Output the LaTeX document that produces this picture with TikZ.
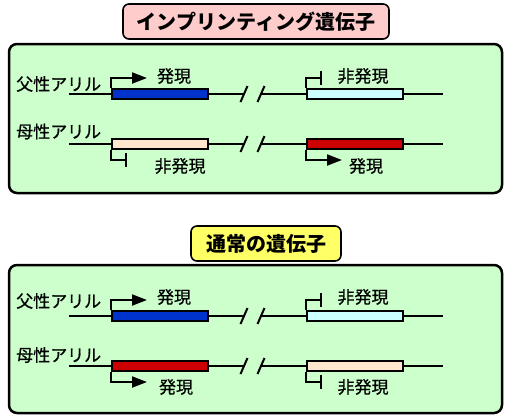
\documentclass[tikz,border=0pt]{standalone}
\usepackage{fontspec}
\newfontfamily\jp{Noto Sans CJK JP}
\newfontfamily\jpmed{Noto Sans CJK JP}[FakeBold=0.7]
\usetikzlibrary{arrows.meta}

\definecolor{panelgreen}{HTML}{CCFFCC}
\definecolor{titlepink}{HTML}{FFCCCC}
\definecolor{titleyellow}{HTML}{FFFF66}
\definecolor{geneblue}{HTML}{0033CC}
\definecolor{genered}{HTML}{CC0000}
\definecolor{genepale}{HTML}{CCFFFF}
\definecolor{genepeach}{HTML}{FFE5CC}

\tikzset{
	panel/.style={draw, line width=2.5pt, rounded corners=8pt, fill=panelgreen},
	titlebox/.style={draw, line width=1.6pt, rounded corners=6pt, minimum height=35pt, inner sep=0pt, font=\jp\bfseries\fontsize{20}{22}\selectfont},
	gene/.style={draw, line width=2pt, minimum width=96pt, minimum height=10pt, inner sep=0pt, anchor=west},
	dna/.style={line width=2pt},
	expr/.style={line width=2pt, -{Triangle[length=15pt,width=11pt]}},
	silent/.style={line width=2pt, -{Bar[width=14pt]}},
	lbl/.style={font=\jpmed\fontsize{17}{20}\selectfont, inner sep=0pt}
}

\begin{document}
\begin{tikzpicture}[x=1pt,y=-1pt]
		\useasboundingbox (0,0) rectangle (514,418);
		% imprinting gene
		\node[titlebox, fill=titlepink, minimum width=266pt] (title1) at (256,21.5) {インプリンティング遺伝子};
		\draw[panel] (9,44) rectangle (502,193);
		\node[lbl, anchor=west] (pat1) at (16,84) {父性アリル};
		\node[lbl, anchor=west] (mat1) at (16,131.5) {母性アリル};
		\coordinate (p1s) at (69,94);
		\coordinate (p1e) at (443,94);
		\coordinate (p1x) at (244,94);
		\coordinate (p1y) at (261,94);
		\node[gene, fill=geneblue] (p1a) at (111,94) {};
		\node[gene, fill=genepale] (p1b) at (306,94) {};
		\draw[dna] (p1s) -- (p1a.west);
		\draw[dna] (p1a.east) -- (p1x);
		\draw[dna] (p1y) -- (p1b.west);
		\draw[dna] (p1b.east) -- (p1e);
		\draw[dna,shift={(p1x)}] (-3.5,8) -- (3.5,-8);
		\draw[dna,shift={(p1y)}] (-3.5,8) -- (3.5,-8);
		\draw[expr] (p1a.north west) |- ++(36,-10);
		\draw[silent] (p1b.north west) |- ++(16,-10);
		\node[lbl] (on1a) at (174,76) {発現};
		\node[lbl] (off1b) at (363,76) {非発現};
		\coordinate (m1s) at (69,144);
		\coordinate (m1e) at (443,144);
		\coordinate (m1x) at (244,144);
		\coordinate (m1y) at (261,144);
		\node[gene, fill=genepeach] (m1a) at (111,144) {};
		\node[gene, fill=genered] (m1b) at (306,144) {};
		\draw[dna] (m1s) -- (m1a.west);
		\draw[dna] (m1a.east) -- (m1x);
		\draw[dna] (m1y) -- (m1b.west);
		\draw[dna] (m1b.east) -- (m1e);
		\draw[dna,shift={(m1x)}] (-3.5,8) -- (3.5,-8);
		\draw[dna,shift={(m1y)}] (-3.5,8) -- (3.5,-8);
		\draw[silent] (m1a.south west) |- ++(16,10);
		\draw[expr] (m1b.south west) |- ++(36,10);
		\node[lbl] (off1a) at (180,166) {非発現};
		\node[lbl] (on1b) at (366,166) {発現};
		% normal gene
		\node[titlebox, fill=titleyellow, minimum width=150pt] (title2) at (266,243.5) {通常の遺伝子};
		\draw[panel] (9,265) rectangle (502,413);
		\node[lbl, anchor=west] (pat2) at (16,301) {父性アリル};
		\node[lbl, anchor=west] (mat2) at (16,355) {母性アリル};
		\coordinate (p2s) at (69,316);
		\coordinate (p2e) at (443,316);
		\coordinate (p2x) at (244,316);
		\coordinate (p2y) at (261,316);
		\node[gene, fill=geneblue] (p2a) at (111,316) {};
		\node[gene, fill=genepale] (p2b) at (306,316) {};
		\draw[dna] (p2s) -- (p2a.west);
		\draw[dna] (p2a.east) -- (p2x);
		\draw[dna] (p2y) -- (p2b.west);
		\draw[dna] (p2b.east) -- (p2e);
		\draw[dna,shift={(p2x)}] (-3.5,8) -- (3.5,-8);
		\draw[dna,shift={(p2y)}] (-3.5,8) -- (3.5,-8);
		\draw[expr] (p2a.north west) |- ++(36,-10);
		\draw[silent] (p2b.north west) |- ++(16,-10);
		\node[lbl] (on2a) at (174,297) {発現};
		\node[lbl] (off2b) at (363,297) {非発現};
		\coordinate (m2s) at (69,366);
		\coordinate (m2e) at (443,366);
		\coordinate (m2x) at (244,366);
		\coordinate (m2y) at (261,366);
		\node[gene, fill=genered] (m2a) at (111,366) {};
		\node[gene, fill=genepeach] (m2b) at (306,366) {};
		\draw[dna] (m2s) -- (m2a.west);
		\draw[dna] (m2a.east) -- (m2x);
		\draw[dna] (m2y) -- (m2b.west);
		\draw[dna] (m2b.east) -- (m2e);
		\draw[dna,shift={(m2x)}] (-3.5,8) -- (3.5,-8);
		\draw[dna,shift={(m2y)}] (-3.5,8) -- (3.5,-8);
		\draw[expr] (m2a.south west) |- ++(36,10);
		\draw[silent] (m2b.south west) |- ++(16,10);
		\node[lbl] (on2a') at (176,387) {発現};
		\node[lbl] (off2b') at (363,387) {非発現};
	\end{tikzpicture}
\end{document}
